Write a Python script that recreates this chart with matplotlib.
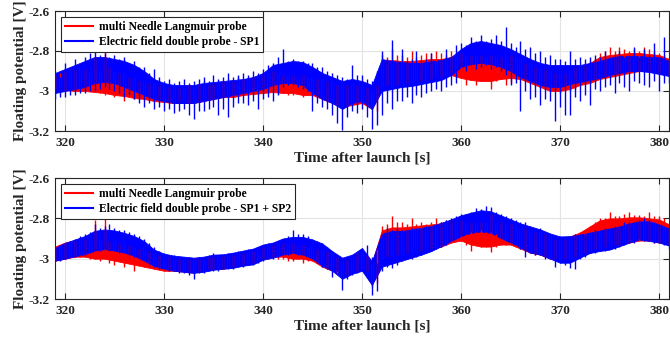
import numpy as np
import matplotlib
matplotlib.use("Agg")
import matplotlib.pyplot as plt
from matplotlib.lines import Line2D

plt.rcParams['font.family'] = ['Liberation Serif', 'DejaVu Serif']
plt.rcParams['font.weight'] = 'bold'

# ---- dense core of each noisy trace, one reading per second from 319 s ----
T = list(range(319, 382))

top_blue_hi = [-2.91, -2.89, -2.87, -2.85, -2.83, -2.83, -2.84, -2.85, -2.87, -2.90,
               -2.94, -2.96, -2.97, -2.97, -2.97, -2.96, -2.955, -2.95, -2.945, -2.94,
               -2.93, -2.91, -2.87, -2.86, -2.85, -2.855, -2.88, -2.91, -2.93, -2.95,
               -2.94, -2.95, -2.97, -2.84, -2.85, -2.855, -2.86, -2.86, -2.85, -2.845,
               -2.83, -2.79, -2.76, -2.75, -2.76, -2.77, -2.79, -2.815, -2.84, -2.86,
               -2.87, -2.87, -2.87, -2.87, -2.86, -2.85, -2.835, -2.825, -2.825, -2.825,
               -2.83, -2.83, -2.85]
top_blue_lo = [-3.01, -3.00, -2.99, -2.98, -2.96, -2.955, -2.96, -2.98, -3.00, -3.02,
               -3.04, -3.05, -3.06, -3.06, -3.06, -3.05, -3.04, -3.03, -3.02, -3.01,
               -3.00, -2.99, -2.97, -2.96, -2.96, -2.97, -3.01, -3.04, -3.06, -3.09,
               -3.06, -3.05, -3.09, -3.00, -2.99, -2.98, -2.975, -2.965, -2.955, -2.945,
               -2.92, -2.88, -2.865, -2.86, -2.865, -2.88, -2.90, -2.93, -2.95, -2.97,
               -2.98, -2.98, -2.965, -2.955, -2.945, -2.935, -2.92, -2.91, -2.90, -2.90,
               -2.905, -2.915, -2.925]

top_red_hi = [-2.92, -2.90, -2.89, -2.90, -2.91, -2.91, -2.92, -2.93, -2.95, -2.96,
              -2.97, -2.98, -2.99, -2.99, -2.99, -2.98, -2.97, -2.96, -2.96, -2.95,
              -2.94, -2.93, -2.92, -2.93, -2.93, -2.93, -2.94, -2.95, -2.96, -2.98,
              -2.97, -2.98, -3.00, -2.85, -2.845, -2.85, -2.85, -2.845, -2.84, -2.84,
              -2.83, -2.82, -2.83, -2.83, -2.83, -2.84, -2.83, -2.84, -2.87, -2.89,
              -2.91, -2.92, -2.90, -2.88, -2.86, -2.83, -2.82, -2.815, -2.81, -2.81,
              -2.815, -2.82, -2.84]
top_red_lo = [-2.99, -2.995, -3.00, -3.00, -3.005, -3.01, -3.02, -3.025, -3.035, -3.04,
              -3.05, -3.055, -3.06, -3.06, -3.06, -3.05, -3.04, -3.03, -3.03, -3.02,
              -3.015, -3.01, -3.005, -3.01, -3.01, -3.02, -3.02, -3.04, -3.06, -3.08,
              -3.07, -3.06, -3.09, -2.98, -2.975, -2.965, -2.955, -2.95, -2.94, -2.93,
              -2.92, -2.935, -2.945, -2.95, -2.95, -2.94, -2.935, -2.94, -2.96, -2.98,
              -3.00, -3.00, -2.99, -2.97, -2.96, -2.94, -2.93, -2.92, -2.91, -2.90,
              -2.90, -2.91, -2.92]

bot_blue_hi = [-2.947, -2.922, -2.905, -2.888, -2.862, -2.855, -2.86, -2.872, -2.888, -2.913,
               -2.955, -2.975, -2.985, -2.99, -2.995, -2.99, -2.98, -2.978, -2.97, -2.96,
               -2.95, -2.93, -2.92, -2.90, -2.892, -2.892, -2.905, -2.925, -2.963, -2.995,
               -2.98, -2.947, -3.013, -2.875, -2.863, -2.863, -2.855, -2.847, -2.838, -2.822,
               -2.805, -2.785, -2.772, -2.76, -2.765, -2.785, -2.805, -2.825, -2.84, -2.855,
               -2.875, -2.89, -2.888, -2.88, -2.872, -2.86, -2.85, -2.84, -2.825, -2.815,
               -2.815, -2.83, -2.85]
bot_blue_lo = [-3.01, -3.0, -2.988, -2.978, -2.96, -2.953, -2.96, -2.97, -2.985, -3.01,
               -3.035, -3.05, -3.06, -3.065, -3.07, -3.065, -3.055, -3.05, -3.045, -3.035,
               -3.028, -3.005, -2.995, -2.98, -2.972, -2.98, -3.0, -3.035, -3.06, -3.10,
               -3.075, -3.06, -3.13, -3.04, -3.025, -3.01, -2.995, -2.98, -2.962, -2.938,
               -2.912, -2.888, -2.872, -2.865, -2.872, -2.897, -2.92, -2.945, -2.97, -2.98,
               -3.0, -3.02, -3.02, -2.995, -2.972, -2.962, -2.955, -2.938, -2.92, -2.905,
               -2.912, -2.92, -2.935]

bot_red_hi = [-2.94, -2.92, -2.91, -2.90, -2.90, -2.91, -2.91, -2.92, -2.94, -2.95,
              -2.97, -2.99, -3.00, -3.00, -3.00, -3.00, -2.99, -2.985, -2.98, -2.97,
              -2.96, -2.94, -2.93, -2.92, -2.92, -2.93, -2.94, -2.95, -2.97, -3.01,
              -2.99, -2.96, -3.02, -2.86, -2.845, -2.845, -2.84, -2.835, -2.83, -2.825,
              -2.815, -2.81, -2.82, -2.82, -2.82, -2.82, -2.83, -2.85, -2.86, -2.87,
              -2.89, -2.90, -2.89, -2.87, -2.84, -2.81, -2.80, -2.80, -2.795, -2.795,
              -2.80, -2.805, -2.83]
bot_red_lo = [-3.01, -3.00, -2.99, -2.99, -3.00, -3.00, -3.01, -3.02, -3.03, -3.04,
              -3.05, -3.06, -3.06, -3.065, -3.07, -3.06, -3.05, -3.05, -3.04, -3.03,
              -3.02, -3.00, -2.99, -2.99, -3.00, -3.00, -3.01, -3.04, -3.06, -3.09,
              -3.07, -3.05, -3.13, -3.00, -2.99, -2.98, -2.97, -2.96, -2.95, -2.94,
              -2.92, -2.91, -2.93, -2.94, -2.94, -2.93, -2.93, -2.95, -2.97, -2.98,
              -3.00, -3.01, -3.00, -2.98, -2.96, -2.95, -2.94, -2.93, -2.92, -2.91,
              -2.91, -2.92, -2.93]

# ---- spike excursions, two readings per second (319.0, 319.5, ...) ----
T0 = 319.0

top_blue_up = [
    -2.90, -2.93, -2.86, -2.89, -2.84, -2.87, -2.83, -2.81, -2.79, -2.82,
    -2.81, -2.83, -2.82, -2.84, -2.83, -2.86, -2.85, -2.88, -2.88, -2.91,
    -2.89, -2.93, -2.95, -2.94, -2.96, -2.95, -2.94, -2.96, -2.95, -2.94,
    -2.93, -2.95, -2.92, -2.94, -2.93, -2.91, -2.93, -2.92, -2.91, -2.92,
    -2.90, -2.91, -2.89, -2.87, -2.86, -2.83, -2.79, -2.85, -2.84, -2.85,
    -2.85, -2.86, -2.86, -2.88, -2.88, -2.90, -2.91, -2.92, -2.93, -2.94,
    -2.87, -2.92, -2.92, -2.94, -2.95, -2.90, -2.80, -2.84, -2.745, -2.85,
    -2.79, -2.85, -2.84, -2.80, -2.85, -2.84, -2.81, -2.85, -2.84, -2.79,
    -2.83, -2.77, -2.76, -2.77, -2.73, -2.75, -2.72, -2.75, -2.74, -2.72,
    -2.75, -2.68, -2.76, -2.78, -2.75, -2.79, -2.78, -2.81, -2.80, -2.83,
    -2.82, -2.84, -2.84, -2.85, -2.80, -2.84, -2.83, -2.84, -2.83, -2.82,
    -2.83, -2.80, -2.83, -2.82, -2.80, -2.83, -2.82, -2.78, -2.83, -2.79,
    -2.82, -2.76, -2.83, -2.73, -2.84, -2.84]
top_blue_dn = [
    -3.04, -3.03, -3.03, -3.02, -3.02, -3.01, -3.01, -3.00, -3.00, -2.99,
    -2.98, -2.99, -3.00, -3.01, -3.03, -3.02, -3.04, -3.06, -3.08, -3.06,
    -3.09, -3.08, -3.10, -3.09, -3.11, -3.10, -3.09, -3.12, -3.14, -3.10,
    -3.10, -3.09, -3.08, -3.12, -3.09, -3.13, -3.08, -3.06, -3.06, -3.07,
    -3.05, -3.09, -3.04, -3.03, -3.05, -3.02, -2.98, -2.97, -2.97, -2.98,
    -2.99, -3.00, -3.10, -3.06, -3.08, -3.09, -3.12, -3.16, -3.195, -3.13,
    -3.10, -3.11, -3.09, -3.13, -3.19, -3.17, -3.12, -3.06, -3.09, -3.05,
    -3.05, -3.03, -3.06, -3.02, -3.03, -3.01, -3.00, -2.99, -3.00, -2.98,
    -2.97, -2.96, -2.88, -2.90, -2.87, -2.89, -2.88, -2.87, -2.89, -2.88,
    -2.90, -2.92, -2.97, -2.96, -3.10, -3.00, -3.04, -3.03, -3.07, -3.04,
    -3.05, -3.15, -3.08, -3.12, -3.12, -3.03, -3.05, -3.02, -3.07, -2.99,
    -3.00, -2.98, -2.97, -3.01, -2.96, -2.98, -3.00, -2.95, -2.96, -2.97,
    -2.98, -2.95, -3.00, -2.96, -2.96, -2.96]

top_red_up = [
    -2.92, -2.91, -2.90, -2.89, -2.89, -2.88, -2.89, -2.90, -2.83, -2.90,
    -2.795, -2.88, -2.90, -2.91, -2.91, -2.93, -2.93, -2.95, -2.95, -2.96,
    -2.96, -2.97, -2.97, -2.98, -2.98, -2.98, -2.98, -2.97, -2.98, -2.97,
    -2.95, -2.97, -2.96, -2.95, -2.95, -2.94, -2.95, -2.93, -2.94, -2.93,
    -2.93, -2.92, -2.92, -2.91, -2.90, -2.91, -2.92, -2.92, -2.92, -2.93,
    -2.92, -2.93, -2.93, -2.94, -2.94, -2.95, -2.95, -2.97, -2.97, -2.97,
    -2.96, -2.97, -2.97, -2.98, -2.99, -2.97, -2.82, -2.83, -2.79, -2.82,
    -2.82, -2.83, -2.80, -2.83, -2.82, -2.81, -2.81, -2.80, -2.81, -2.82,
    -2.80, -2.81, -2.81, -2.82, -2.82, -2.82, -2.82, -2.83, -2.82, -2.83,
    -2.83, -2.82, -2.82, -2.83, -2.84, -2.86, -2.86, -2.88, -2.88, -2.89,
    -2.90, -2.91, -2.91, -2.91, -2.89, -2.88, -2.87, -2.87, -2.85, -2.84,
    -2.81, -2.80, -2.78, -2.80, -2.78, -2.79, -2.80, -2.79, -2.80, -2.78,
    -2.79, -2.80, -2.81, -2.82, -2.83, -2.83]
top_red_dn = [
    -2.99, -3.00, -3.00, -2.99, -2.99, -3.00, -3.00, -2.99, -3.00, -3.01,
    -3.02, -3.00, -3.03, -3.01, -3.05, -3.02, -3.04, -3.03, -3.04, -3.03,
    -3.05, -3.04, -3.05, -3.06, -3.06, -3.05, -3.05, -3.06, -3.06, -3.05,
    -3.05, -3.04, -3.04, -3.03, -3.03, -3.02, -3.03, -3.02, -3.02, -3.01,
    -3.02, -3.01, -3.01, -3.00, -3.00, -3.00, -3.01, -3.02, -3.02, -3.01,
    -3.03, -3.02, -3.02, -3.03, -3.04, -3.05, -3.06, -3.07, -3.08, -3.07,
    -3.07, -3.06, -3.06, -3.07, -3.09, -3.10, -2.98, -2.97, -2.98, -2.97,
    -2.97, -2.96, -2.96, -2.95, -2.95, -2.95, -2.94, -2.93, -2.93, -2.92,
    -2.91, -2.92, -2.93, -2.97, -2.94, -2.97, -2.95, -2.94, -2.99, -2.95,
    -2.94, -2.97, -2.96, -2.94, -2.94, -2.95, -2.96, -2.97, -2.98, -2.99,
    -3.00, -3.00, -3.01, -3.00, -3.00, -2.99, -2.97, -2.96, -2.96, -2.95,
    -2.94, -2.93, -2.93, -2.93, -2.92, -2.91, -2.91, -2.90, -2.90, -2.90,
    -2.90, -2.91, -2.91, -2.91, -2.92, -2.92]

bot_blue_up = [
    -2.94, -2.93, -2.92, -2.91, -2.90, -2.89, -2.88, -2.87, -2.83, -2.85,
    -2.84, -2.83, -2.85, -2.86, -2.86, -2.87, -2.88, -2.89, -2.90, -2.92,
    -2.94, -2.96, -2.97, -2.98, -2.98, -2.99, -2.99, -2.99, -3.00, -2.99,
    -2.99, -2.98, -2.97, -2.98, -2.98, -2.97, -2.97, -2.96, -2.96, -2.95,
    -2.95, -2.94, -2.93, -2.92, -2.92, -2.91, -2.90, -2.89, -2.86, -2.88,
    -2.88, -2.89, -2.90, -2.91, -2.92, -2.94, -2.96, -2.98, -3.00, -2.99,
    -2.98, -2.97, -2.95, -2.93, -2.99, -3.02, -2.88, -2.85, -2.86, -2.85,
    -2.86, -2.86, -2.85, -2.85, -2.85, -2.84, -2.84, -2.83, -2.82, -2.81,
    -2.80, -2.79, -2.78, -2.78, -2.77, -2.75, -2.755, -2.74, -2.745, -2.77,
    -2.78, -2.79, -2.80, -2.81, -2.82, -2.82, -2.84, -2.85, -2.85, -2.87,
    -2.88, -2.89, -2.89, -2.90, -2.89, -2.88, -2.88, -2.88, -2.87, -2.86,
    -2.86, -2.85, -2.85, -2.84, -2.84, -2.82, -2.82, -2.82, -2.81, -2.80,
    -2.81, -2.82, -2.83, -2.84, -2.85, -2.86]
bot_blue_dn = [
    -3.01, -3.01, -3.00, -2.99, -2.99, -2.98, -2.98, -2.97, -2.96, -2.96,
    -2.95, -2.96, -2.96, -2.97, -2.97, -2.98, -2.99, -3.00, -3.01, -3.03,
    -3.04, -3.05, -3.05, -3.06, -3.06, -3.07, -3.07, -3.08, -3.10, -3.07,
    -3.07, -3.06, -3.06, -3.06, -3.05, -3.05, -3.05, -3.04, -3.04, -3.03,
    -3.03, -3.02, -3.01, -3.00, -3.00, -2.99, -2.98, -2.98, -2.97, -2.98,
    -2.98, -2.99, -3.00, -3.02, -3.04, -3.05, -3.09, -3.06, -3.155, -3.10,
    -3.08, -3.07, -3.06, -3.08, -3.18, -3.16, -3.06, -3.04, -3.045, -3.03,
    -3.01, -3.00, -3.00, -2.99, -2.98, -2.97, -2.96, -2.95, -2.94, -2.93,
    -2.91, -2.90, -2.89, -2.88, -2.87, -2.87, -2.86, -2.87, -2.87, -2.88,
    -2.90, -2.91, -2.92, -2.93, -2.95, -2.99, -2.97, -2.98, -2.98, -3.00,
    -3.00, -3.04, -3.02, -3.03, -3.045, -3.05, -3.00, -2.99, -2.97, -2.97,
    -2.96, -2.96, -2.95, -2.95, -2.94, -2.93, -2.92, -2.92, -2.90, -2.91,
    -2.91, -2.92, -2.92, -2.93, -2.95, -2.94]

bot_red_up = [
    -2.94, -2.93, -2.92, -2.91, -2.91, -2.90, -2.90, -2.90, -2.81, -2.90,
    -2.79, -2.91, -2.91, -2.92, -2.92, -2.93, -2.94, -2.95, -2.95, -2.96,
    -2.97, -2.98, -2.99, -2.99, -3.00, -3.00, -3.00, -3.00, -3.00, -3.00,
    -3.00, -2.99, -2.99, -2.99, -2.985, -2.98, -2.98, -2.97, -2.97, -2.96,
    -2.96, -2.95, -2.94, -2.93, -2.93, -2.92, -2.92, -2.92, -2.92, -2.93,
    -2.93, -2.94, -2.94, -2.95, -2.95, -2.96, -2.97, -2.99, -3.01, -3.00,
    -2.99, -2.97, -2.96, -2.98, -3.02, -2.95, -2.84, -2.83, -2.79, -2.82,
    -2.82, -2.83, -2.80, -2.83, -2.82, -2.83, -2.82, -2.80, -2.82, -2.81,
    -2.81, -2.80, -2.81, -2.82, -2.82, -2.82, -2.82, -2.82, -2.78, -2.82,
    -2.82, -2.83, -2.83, -2.84, -2.85, -2.85, -2.86, -2.87, -2.87, -2.88,
    -2.89, -2.90, -2.90, -2.90, -2.89, -2.88, -2.87, -2.86, -2.84, -2.82,
    -2.80, -2.80, -2.77, -2.79, -2.79, -2.78, -2.77, -2.785, -2.785, -2.79,
    -2.77, -2.79, -2.79, -2.80, -2.83, -2.83]
bot_red_dn = [
    -3.01, -3.00, -3.00, -2.99, -2.99, -2.99, -2.99, -3.00, -3.00, -3.01,
    -3.00, -3.02, -3.03, -3.01, -3.04, -3.02, -3.06, -3.03, -3.04, -3.04,
    -3.05, -3.05, -3.06, -3.06, -3.06, -3.06, -3.065, -3.06, -3.07, -3.06,
    -3.06, -3.05, -3.05, -3.05, -3.05, -3.04, -3.04, -3.03, -3.03, -3.02,
    -3.02, -3.01, -3.00, -3.00, -2.99, -3.00, -3.00, -3.01, -3.01, -3.00,
    -3.02, -3.01, -3.01, -3.02, -3.04, -3.05, -3.06, -3.07, -3.09, -3.08,
    -3.07, -3.06, -3.05, -3.06, -3.14, -3.12, -3.00, -2.99, -2.99, -2.98,
    -2.98, -2.97, -2.97, -2.96, -2.96, -2.95, -2.95, -2.94, -2.94, -2.93,
    -2.92, -2.91, -2.91, -2.93, -2.96, -2.93, -2.94, -2.94, -2.965, -2.94,
    -2.93, -2.93, -2.93, -2.94, -2.95, -2.96, -2.97, -2.98, -2.98, -2.99,
    -3.00, -3.00, -3.01, -3.00, -3.00, -2.99, -2.98, -2.97, -2.96, -2.95,
    -2.95, -2.94, -2.94, -2.93, -2.93, -2.92, -2.92, -2.91, -2.91, -2.91,
    -2.91, -2.92, -2.92, -2.92, -2.93, -2.93]

x_ticks = [320, 330, 340, 350, 360, 370, 380]
y_ticks = [-2.6, -2.8, -3.0, -3.2]
y_tick_labels = ['-2.6', '-2.8', '-3', '-3.2']
legend_red = 'multi Needle Langmuir probe'
legend_blue_top = 'Electric field double probe - SP1'
legend_blue_bot = 'Electric field double probe - SP1 + SP2'
xlabel = 'Time after launch [s]'
ylabel = 'Floating potential [V]'

RED = '#ff0000'
BLUE = '#0000ff'


def draw_trace(ax, hi, lo, up, dn, color):
    ax.fill_between(T, lo, hi, color=color, edgecolor=color, lw=0.6)
    ts = T0 + 0.5 * np.arange(len(up))
    ax.vlines(ts, dn, up, color=color, lw=1.0)


fig = plt.figure(figsize=(6.7, 3.42), dpi=100)
ax1 = fig.add_axes([55 / 670, 1 - 131 / 342, 614 / 670, 120 / 342])
ax2 = fig.add_axes([55 / 670, 1 - 299 / 342, 614 / 670, 121 / 342])

panels = [
    (ax1, (top_red_hi, top_red_lo, top_red_up, top_red_dn),
     (top_blue_hi, top_blue_lo, top_blue_up, top_blue_dn), legend_blue_top),
    (ax2, (bot_red_hi, bot_red_lo, bot_red_up, bot_red_dn),
     (bot_blue_hi, bot_blue_lo, bot_blue_up, bot_blue_dn), legend_blue_bot),
]

for (ax, red, blue, lb) in panels:
    draw_trace(ax, *red, RED)
    draw_trace(ax, *blue, BLUE)
    ax.set_xlim(319, 381)
    ax.set_ylim(-3.2, -2.6)
    ax.set_xticks(x_ticks)
    ax.set_xticklabels([str(v) for v in x_ticks])
    ax.set_yticks(y_ticks)
    ax.set_yticklabels(y_tick_labels)
    ax.grid(True, color='#e3e3e3', lw=0.8)
    ax.set_axisbelow(True)
    ax.tick_params(direction='in', top=True, right=True, length=4, width=0.8,
                   colors='#262626', labelsize=9.5, pad=4)
    for lab in ax.get_xticklabels() + ax.get_yticklabels():
        lab.set_fontweight('bold')
    for s in ax.spines.values():
        s.set_color('#262626')
        s.set_linewidth(0.8)
    ax.set_xlabel(xlabel, fontsize=11, fontweight='bold', color='#262626', labelpad=2)
    ax.set_ylabel(ylabel, fontsize=11, fontweight='bold', color='#262626')
    ax.yaxis.set_label_coords(-0.046, 0.5)
    handles = [Line2D([0], [0], color=RED, lw=1.5), Line2D([0], [0], color=BLUE, lw=1.5)]
    leg = ax.legend(handles, [legend_red, lb], loc='upper left', fancybox=False,
                    framealpha=1, edgecolor='#262626', prop={'size': 8.4, 'weight': 'bold'},
                    borderpad=0.35, labelspacing=0.25, handlelength=2.4, handletextpad=0.5,
                    borderaxespad=0.5)
    leg.get_frame().set_linewidth(0.8)

fig.savefig('out.png', dpi=100)
